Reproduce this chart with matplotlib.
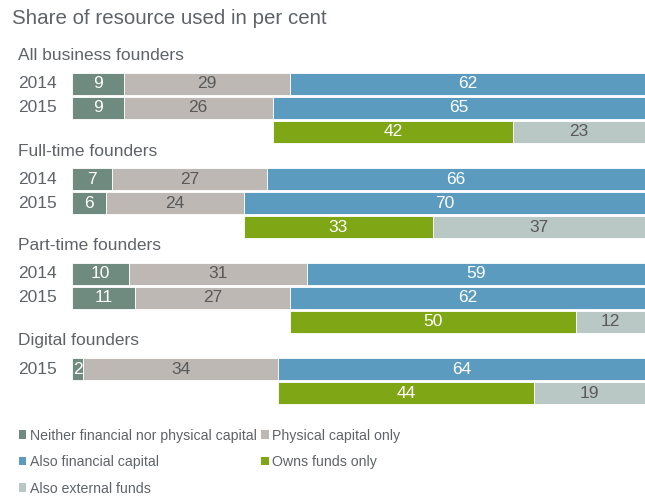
import numpy as np
import matplotlib
matplotlib.use("Agg")
import matplotlib.pyplot as plt
from matplotlib.patches import Patch
from matplotlib.transforms import blended_transform_factory

plt.rcParams['font.family'] = ['Liberation Sans', 'DejaVu Sans']

# data
groups = ["All business founders", "Full-time founders", "Part-time founders", "Digital founders"]
years = [["2014", "2015"], ["2014", "2015"], ["2014", "2015"], ["2015"]]
neither = [[9, 9], [7, 6], [10, 11], [2]]
physical = [[29, 26], [27, 24], [31, 27], [34]]
financial = [[62, 65], [66, 70], [59, 62], [64]]
owns = [42, 33, 50, 44]
external = [23, 37, 12, 19]

labels = ["Neither financial nor physical capital", "Physical capital only",
          "Also financial capital", "Owns funds only", "Also external funds"]
colors = ["#6f8a7e", "#bdb8b4", "#5b9bbf", "#7fa614", "#b9c7c5"]
txt_on = ["white", "#595959", "white", "white", "#595959"]
grey = "#5f6368"

W, H = 645, 496
fig = plt.figure(figsize=(W / 100, H / 100), dpi=100)
ax = fig.add_axes([72 / W, 0, 1 - 72 / W, 1])
ax.set_xlim(0, 100)
ax.set_ylim(H, 0)
ax.axis('off')
left_tr = blended_transform_factory(fig.transFigure, ax.transData)

fig.text(12 / W, 1 - 18 / H, "Share of resource used in per cent", fontsize=14.8,
         color=grey, va='center')

bh = 22
step = 24
first = 84
gstep = 95


def seg(y, start, w, ci, lab=None):
    ax.barh(y, w, left=start, height=bh, color=colors[ci], edgecolor='white', linewidth=0.6)
    ax.text(start + w / 2, y, str(lab if lab is not None else w), ha='center', va='center',
            fontsize=12.5, color=txt_on[ci])


for g, name in enumerate(groups):
    y0 = first + g * gstep
    fig.text(18 / W, y0 - 28, name, transform=left_tr, fontsize=12.5, color=grey, va='center')
    for r, yr in enumerate(years[g]):
        y = y0 + r * step
        fig.text(18 / W, y, yr, transform=left_tr, fontsize=12.5, color=grey, va='center')
        vals = [neither[g][r], physical[g][r], financial[g][r]]
        start = 0
        for ci, v in enumerate(vals):
            seg(y, start, v, ci)
            start += v
    # split of the last year's financial capital share
    y = y0 + len(years[g]) * step
    start = neither[g][-1] + physical[g][-1]
    k = financial[g][-1] / (owns[g] + external[g])
    seg(y, start, owns[g] * k, 3, owns[g])
    seg(y, start + owns[g] * k, external[g] * k, 4, external[g])

order = [0, 2, 4, 1, 3]
handles = [Patch(facecolor=colors[i], edgecolor='none') for i in order]
leg = fig.legend(handles, [labels[i] for i in order], loc='upper left',
                 bbox_to_anchor=(13 / W, 1 - 423 / H),
                 ncol=2, frameon=False, fontsize=10.2, handlelength=0.55, handleheight=0.55,
                 handletextpad=0.22, columnspacing=0.35, labelspacing=0.88, borderaxespad=0)
for t in leg.get_texts():
    t.set_color(grey)

fig.savefig("out.png", dpi=100)
